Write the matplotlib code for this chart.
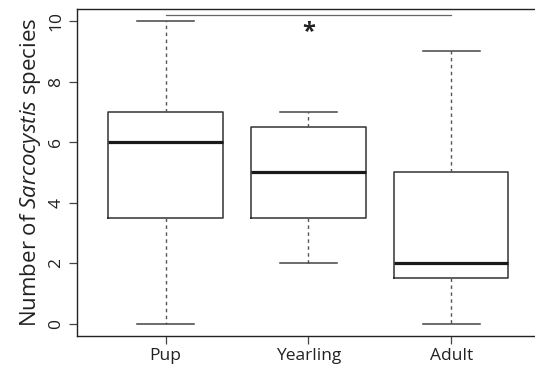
import matplotlib
matplotlib.use("Agg")
import matplotlib.pyplot as plt

# group names and box statistics
groups = ["Pup", "Yearling", "Adult"]
whisker_low = [0, 2, 0]
q1 = [3.5, 3.5, 1.5]
median = [6, 5, 2]
q3 = [7, 6.5, 5]
whisker_high = [10, 7, 9]

yticks = [0, 2, 4, 6, 8, 10]
sig_level = 10.2
star_level = 9.65

plt.rcParams["font.family"] = ["Open Sans", "DejaVu Sans"]
plt.rcParams["mathtext.fontset"] = "custom"
plt.rcParams["mathtext.rm"] = "Open Sans"
plt.rcParams["mathtext.it"] = "Open Sans:italic"

fig = plt.figure(figsize=(5.35, 3.67), dpi=100)
ax = fig.add_axes([0.1439, 0.0845, 0.865, 0.891])

stats = []
for i, g in enumerate(groups):
    stats.append({"label": g, "whislo": whisker_low[i], "q1": q1[i], "med": median[i],
                  "q3": q3[i], "whishi": whisker_high[i], "fliers": []})

pos = list(range(1, len(groups) + 1))
ax.bxp(stats, positions=pos, widths=0.8, showfliers=False,
       boxprops=dict(color="#333333", linewidth=1.1),
       medianprops=dict(color="#1a1a1a", linewidth=2.3, solid_capstyle="butt"),
       whiskerprops=dict(color="#555555", linewidth=1.0, linestyle=(0, (2.5, 2.5))),
       capprops=dict(color="#444444", linewidth=1.1),
       capwidths=0.4)

# significance bar between Pup and Adult
ax.plot([pos[0], pos[-1]], [sig_level, sig_level], color="#666666", linewidth=0.9)
ax.text(pos[1], star_level, "*", ha="center", va="center", fontsize=17,
        fontweight="bold", color="#222222")

ax.set_xlim(0.38, 3.62)
ax.set_ylim(-0.4, 10.4)
ax.set_yticks(yticks)
ax.set_yticklabels([str(v) for v in yticks], rotation=90, va="center", fontsize=12.5, color="#222222")
ax.set_xticks(pos)
ax.set_xticklabels(groups, fontsize=12.5, color="#222222")
ax.tick_params(direction="out", length=6, width=0.9, color="#444444", pad=3)
ax.tick_params(axis="y", pad=3)

for s in ax.spines.values():
    s.set_color("#222222")
    s.set_linewidth(1.0)

ax.set_ylabel("Number of $\\it{Sarcocystis}$ species", fontsize=16, color="#222222", labelpad=4)

fig.savefig("out.png", dpi=100)
